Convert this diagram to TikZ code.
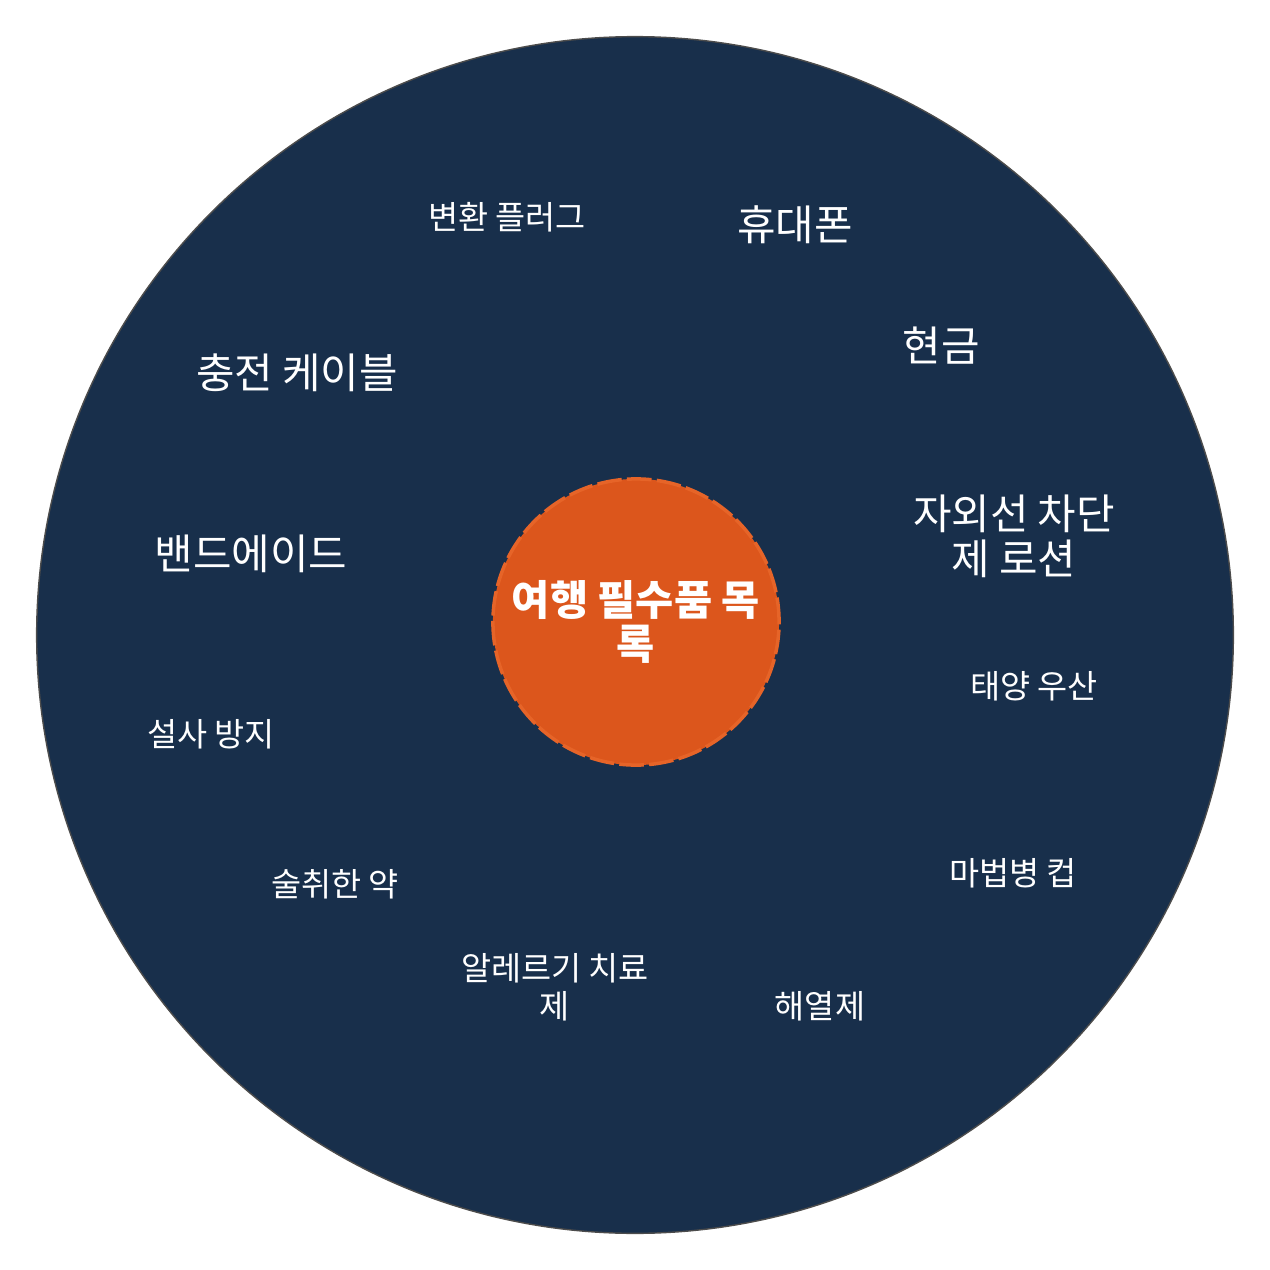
\documentclass[tikz,border=0pt]{standalone}
\usepackage{fontspec}
\setmainfont{Noto Sans CJK KR}
\usetikzlibrary{calc}
\usetikzlibrary{positioning}

\definecolor{navy}{RGB}{24,47,75}
\definecolor{rust}{RGB}{220,86,28}
\definecolor{rustline}{RGB}{230,100,40}

\begin{document}
\begin{tikzpicture}[x=0.01cm, y=-0.01cm,
    bigitem/.style={text=white, font=\fontsize{11.9}{12.8}\selectfont, align=center, inner sep=0pt},
    smallitem/.style={text=white, font=\fontsize{9.3}{10.8}\selectfont, align=center, inner sep=0pt}]
  \useasboundingbox (0,0) rectangle (1270,1270);

  % Outer disc
  \coordinate (center) at (635,635);
  \fill[navy] (center) circle (5.98cm);
  \draw[black!70, line width=0.4pt] (center) circle (5.98cm);

  % Centre topic
  \node[circle, fill=rust, draw=rustline, line width=1pt, dash pattern=on 7pt off 1.5pt,
        minimum size=2.86cm, inner sep=0pt, text=white, align=center,
        font=\bfseries\fontsize{11.8}{12.5}\selectfont] (topic) at (636,622)
        {여행 필수품 목\\록};

  % Items around the centre
  \node[smallitem] (plug) at (507,217) {변환 플러그};
  \node[bigitem] (phone) at (795,225) {휴대폰};
  \node[bigitem] (cash) at (941,346) {현금};
  \node[bigitem] (cable) at (297,373) {충전 케이블};
  \node[bigitem] (sunscreen) at (1014,536) {자외선 차단\\제 로션};
  \node[bigitem] (bandaid) at (251,554) {밴드에이드};
  \node[smallitem] (umbrella) at (1034,686) {태양 우산};
  \node[smallitem] (diarrhea) at (211,734) {설사 방지};
  \node[smallitem] (hangover) at (335,884) {술취한 약};
  \node[smallitem] (cup) at (1013,873) {마법병 컵};
  \node[smallitem] (allergy) at (555,987) {알레르기 치료\\제};
  \node[smallitem] (fever) at (820,1006) {해열제};

\end{tikzpicture}
\end{document}
